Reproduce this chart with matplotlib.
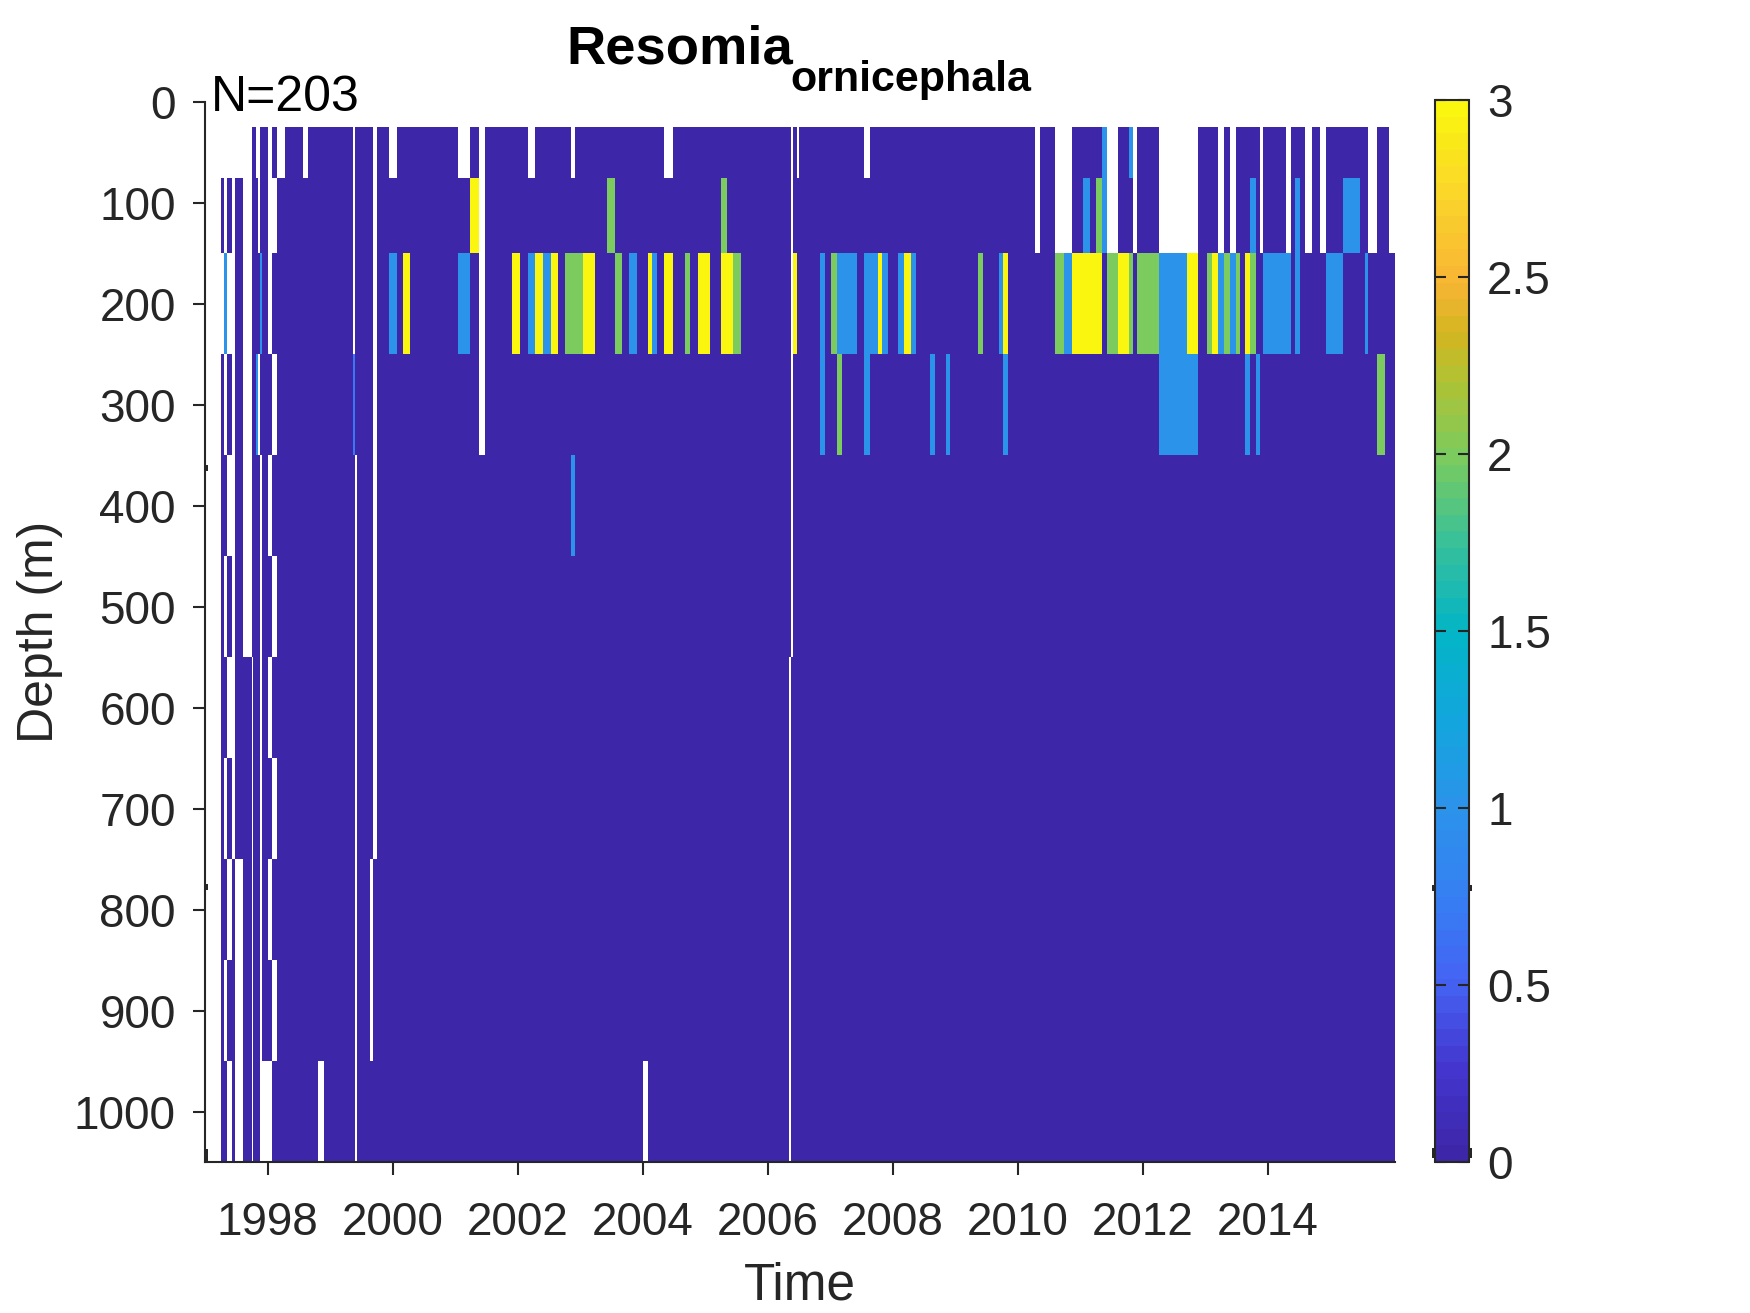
import numpy as np
import matplotlib
matplotlib.use("Agg")
import matplotlib.pyplot as plt
from matplotlib.colors import LinearSegmentedColormap

plt.rcParams["font.family"] = ["Liberation Sans", "DejaVu Sans"]

# Depth bins (m) and time range (years)
depth_edges = [25, 75, 150, 250, 350, 450, 550, 650, 750, 850, 950, 1050]
time_start = 1997.256
time_end = 2016.04

# White (no data) intervals per depth layer, top to bottom
gaps_25 = [(1997.256, 1997.752), (1997.816, 1997.88), (1998.008, 1998.072), (1998.152, 1998.28),
           (1998.568, 1998.648), (1999.368, 1999.40), (1999.688, 1999.752), (1999.944, 2000.072),
           (2001.048, 2001.24), (2001.384, 2001.48), (2002.168, 2002.28), (2002.856, 2002.92),
           (2004.344, 2004.488), (2006.376, 2006.408), (2006.472, 2006.504), (2007.544, 2007.64),
           (2010.28, 2010.36), (2010.60, 2010.872), (2011.432, 2011.608), (2011.848, 2011.912),
           (2012.264, 2012.888), (2013.208, 2013.304), (2013.40, 2013.496), (2013.88, 2013.928),
           (2014.296, 2014.376), (2014.60, 2014.712), (2014.84, 2014.936), (2015.608, 2015.752),
           (2015.944, 2016.04)]
gaps_75 = [(1997.304, 1997.352), (1997.432, 1997.48), (1997.608, 1997.752), (1997.848, 1997.88),
           (1998.008, 1998.152), (1999.368, 1999.40), (1999.688, 1999.752), (2001.384, 2001.48),
           (2006.376, 2006.408), (2010.28, 2010.36), (2010.60, 2010.872), (2011.432, 2011.608),
           (2011.848, 2011.912), (2012.264, 2012.888), (2013.208, 2013.304), (2013.40, 2013.496),
           (2013.88, 2013.928), (2014.296, 2014.376), (2014.60, 2014.712), (2014.84, 2014.936),
           (2015.608, 2015.752), (2015.944, 2016.04)]
gaps_150 = [(1997.256, 1997.304), (1997.352, 1997.48), (1997.608, 1997.752), (1998.008, 1998.072),
            (1999.368, 1999.40), (1999.688, 1999.752), (2001.384, 2001.48), (2006.376, 2006.408)]
gaps_250 = [(1997.304, 1997.352), (1997.432, 1997.48), (1997.608, 1997.752), (1997.848, 1997.88),
            (1998.072, 1998.152), (1999.688, 1999.752), (2001.384, 2001.48), (2006.376, 2006.408)]
gaps_350 = [(1997.352, 1997.48), (1997.608, 1997.752), (1997.88, 1997.912), (1998.008, 1998.072),
            (1999.40, 1999.432), (1999.688, 1999.752), (2006.376, 2006.408)]
gaps_450 = [(1997.304, 1997.352), (1997.432, 1997.48), (1997.608, 1997.752), (1997.88, 1997.912),
            (1998.072, 1998.152), (1999.40, 1999.432), (1999.688, 1999.752), (2006.376, 2006.408)]
gaps_550 = [(1997.352, 1997.48), (1997.752, 1997.768), (1997.88, 1997.912), (1998.008, 1998.072),
            (1999.40, 1999.432), (1999.688, 1999.752), (2006.344, 2006.376)]
gaps_650 = [(1997.304, 1997.352), (1997.432, 1997.48), (1997.752, 1997.768), (1997.88, 1997.912),
            (1998.072, 1998.152), (1999.40, 1999.432), (1999.688, 1999.752), (2006.344, 2006.376)]
gaps_750 = [(1997.352, 1997.432), (1997.48, 1997.608), (1997.752, 1997.768), (1997.88, 1997.912),
            (1998.008, 1998.072), (1999.40, 1999.432), (1999.64, 1999.688), (2006.344, 2006.376)]
gaps_850 = [(1997.304, 1997.352), (1997.48, 1997.608), (1997.752, 1997.768), (1997.88, 1997.912),
            (1998.072, 1998.152), (1999.40, 1999.432), (1999.64, 1999.688), (2006.344, 2006.376)]
gaps_950 = [(1997.352, 1997.432), (1997.48, 1997.608), (1997.752, 1997.768), (1997.88, 1998.072),
            (1998.808, 1998.904), (1999.40, 1999.432), (2004.008, 2004.088), (2006.344, 2006.376)]

# Non-zero values per layer: (start, end, value)
runs_25 = [(2011.352, 2011.432, 1), (2011.784, 2011.848, 1)]
runs_75 = [(2001.24, 2001.384, 3), (2003.432, 2003.56, 2), (2005.256, 2005.352, 2),
           (2011.048, 2011.16, 1), (2011.256, 2011.352, 2), (2011.352, 2011.432, 1),
           (2013.72, 2013.816, 1), (2014.44, 2014.52, 1), (2015.208, 2015.48, 1)]
runs_150 = [(1997.304, 1997.352, 1), (1997.88, 1997.912, 1), (1999.944, 2000.072, 1), (2000.168, 2000.28, 3),
            (2001.048, 2001.24, 1), (2001.912, 2002.04, 3), (2002.168, 2002.28, 1), (2002.28, 2002.408, 3),
            (2002.408, 2002.536, 1), (2002.536, 2002.648, 3), (2002.76, 2003.048, 2), (2003.048, 2003.24, 3),
            (2003.56, 2003.672, 2), (2003.784, 2003.912, 1), (2004.088, 2004.152, 3), (2004.152, 2004.232, 1),
            (2004.344, 2004.488, 3), (2004.68, 2004.76, 2), (2004.888, 2005.08, 3), (2005.256, 2005.448, 3),
            (2005.448, 2005.576, 2), (2006.408, 2006.472, 3), (2006.84, 2006.92, 1), (2007.016, 2007.112, 2),
            (2007.112, 2007.432, 1), (2007.544, 2007.768, 1), (2007.768, 2007.832, 3), (2007.832, 2007.928, 1),
            (2008.088, 2008.184, 1), (2008.184, 2008.296, 3), (2008.296, 2008.376, 1), (2009.368, 2009.448, 2),
            (2009.704, 2009.768, 1), (2009.768, 2009.848, 3), (2010.60, 2010.744, 2), (2010.744, 2010.872, 1),
            (2010.872, 2011.352, 3), (2011.432, 2011.608, 2), (2011.608, 2011.784, 3), (2011.784, 2011.848, 2),
            (2011.912, 2012.264, 2), (2012.264, 2012.712, 1), (2012.712, 2012.888, 3), (2013.032, 2013.112, 2),
            (2013.112, 2013.208, 3), (2013.208, 2013.304, 1), (2013.304, 2013.40, 2), (2013.40, 2013.496, 1),
            (2013.496, 2013.56, 2), (2013.64, 2013.72, 3), (2013.72, 2013.816, 2), (2013.928, 2014.376, 1),
            (2014.44, 2014.52, 1), (2014.936, 2015.208, 1), (2015.56, 2015.608, 1)]
runs_250 = [(1997.816, 1997.848, 1), (1999.368, 1999.40, 0.7), (2006.84, 2006.92, 1), (2007.112, 2007.192, 2),
            (2007.544, 2007.64, 1), (2008.60, 2008.68, 1), (2008.856, 2008.92, 1), (2009.768, 2009.848, 1),
            (2012.264, 2012.888, 1), (2013.64, 2013.72, 1), (2013.816, 2013.88, 1), (2015.752, 2015.88, 2)]
runs_350 = [(2002.856, 2002.92, 1)]

layer_gaps = [gaps_25, gaps_75, gaps_150, gaps_250, gaps_350, gaps_450,
              gaps_550, gaps_650, gaps_750, gaps_850, gaps_950]
layer_runs = [runs_25, runs_75, runs_150, runs_250, runs_350, [], [], [], [], [], []]

# Parula-like colormap
cbar_values = [0, 0.25, 0.5, 0.75, 1, 1.25, 1.5, 1.75, 2, 2.25, 2.35, 2.5, 2.75, 3]
cbar_colors = ["#3D26A8", "#4336CF", "#4464F4", "#3580F2", "#2B94EA", "#12A6DC", "#03B5C6", "#38C09A",
               "#7BCB5E", "#B8C02E", "#D2B520", "#F8B535", "#FAD52A", "#FAF60F"]
parula = LinearSegmentedColormap.from_list("parula", [(v / 3, c) for v, c in zip(cbar_values, cbar_colors)], N=64)

# Build the time/depth grid from the intervals
time_edges = {time_start, time_end}
for rows in layer_gaps + layer_runs:
    for item in rows:
        time_edges.update(item[:2])
time_edges = np.array(sorted(time_edges))

grid = np.zeros((len(depth_edges) - 1, len(time_edges) - 1))
for i in range(grid.shape[0]):
    for start, end, value in layer_runs[i]:
        grid[i, (time_edges[:-1] >= start) & (time_edges[1:] <= end)] = value
    for start, end in layer_gaps[i]:
        grid[i, (time_edges[:-1] >= start) & (time_edges[1:] <= end)] = np.nan

W, H = 1750, 1313
dark = "#262626"
fig = plt.figure(figsize=(W / 100, H / 100), dpi=100)
ax = fig.add_axes([205 / W, 1 - 1162 / H, 1190 / W, 1060 / H])

mesh = ax.pcolormesh(time_edges, depth_edges, np.ma.masked_invalid(grid), cmap=parula, vmin=0, vmax=3,
                     antialiased=False, linewidth=0)

ax.set_xlim(1997, time_end)
ax.set_ylim(1050, 0)
ax.set_xticks(range(1998, 2016, 2))
ax.set_yticks(range(0, 1100, 100))
ax.spines["top"].set_visible(False)
ax.spines["right"].set_visible(False)
for side in ["left", "bottom"]:
    ax.spines[side].set_linewidth(1.5)
    ax.spines[side].set_color(dark)
ax.tick_params(axis="both", length=9, width=1.5, color=dark, labelsize=33, labelcolor=dark)
ax.tick_params(axis="x", pad=19)
ax.tick_params(axis="y", pad=12)

# Small marks that sit on the left axis line in the original
ax.set_yticks([363, 778, 1040, 1046], minor=True)
ax.tick_params(axis="y", which="minor", direction="in", length=2, width=4.3, color=dark)

ax.set_xlabel("Time", fontsize=37, color=dark, labelpad=12)
ax.set_ylabel("Depth (m)", fontsize=36, color=dark, labelpad=8)

fig.text(566 / W, 1 - 63 / H, "Resomia", fontsize=39.2, fontweight="bold", color="black", va="baseline")
fig.text(790 / W, 1 - 91 / H, "ornicephala", fontsize=31, fontweight="bold", color="black", va="baseline")
fig.text(211 / W, 1 - 111 / H, "N=203", fontsize=36, color="black", va="baseline")

# Colorbar
cax = fig.add_axes([1435 / W, 1 - 1162 / H, 34 / W, 1062 / H])
cbar = fig.colorbar(mesh, cax=cax)
cbar.set_ticks([0, 0.5, 1, 1.5, 2, 2.5, 3], labels=["0", "0.5", "1", "1.5", "2", "2.5", "3"])
cbar.outline.set_linewidth(1.5)
cbar.outline.set_edgecolor(dark)
cax.tick_params(axis="y", direction="in", left=True, right=True, length=8, width=1.5, color=dark,
                labelsize=33, labelcolor=dark, pad=13)
cax.set_yticks([0.02, 0.03, 0.774], minor=True)
cax.tick_params(axis="y", which="minor", direction="out", left=True, right=True, length=2, width=4.3, color=dark)

plt.savefig("out.png", dpi=100)
